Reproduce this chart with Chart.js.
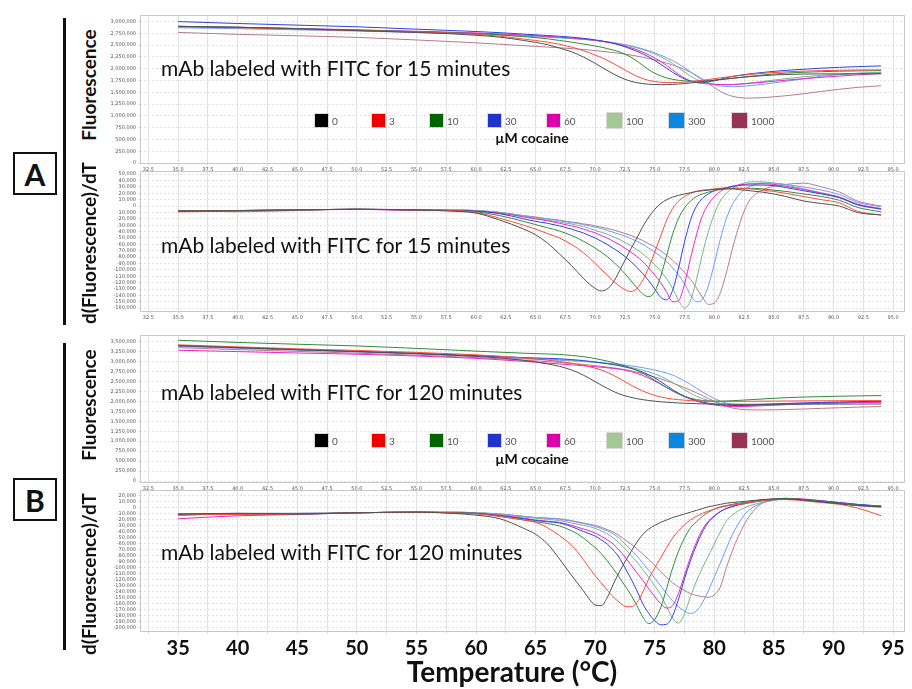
<!DOCTYPE html>
<html lang="en">
<head>
<meta charset="UTF-8">
<title>Melting curves - mAb labeled with FITC</title>
<script src="https://cdn.jsdelivr.net/npm/chart.js"></script>
<style>
  body { margin: 0; background: #fff; font-family: Lato, "Open Sans", sans-serif; }
  #page { position: relative; width: 912px; height: 689px; overflow: hidden; }
  canvas { position: absolute; left: 100px; }
  .note { position: absolute; left: 161px; font-size: 21px; line-height: 21px; color: #111; white-space: nowrap; }
  .ytitle { position: absolute; font-weight: bold; font-size: 19px; color: #111; white-space: nowrap; transform: translate(-50%, -50%) rotate(-90deg); }
  .bar { position: absolute; left: 63px; width: 3px; background: #111; }
  .letter { position: absolute; left: 13px; width: 40px; height: 39px; border: 2px solid #111; font-weight: bold; font-size: 30px; text-align: center; line-height: 40px; color: #111; }
  .sw { position: absolute; box-shadow: 0 0 0 1px rgba(0,0,0,0.15); }
  .lab { position: absolute; font-size: 10px; line-height: 12px; color: #555; }
  .unit { position: absolute; font-weight: bold; font-size: 14px; color: #111; transform: translate(-50%, -50%); white-space: nowrap; }
  #xtitle { position: absolute; left: 512px; top: 671px; transform: translate(-50%, -50%); font-weight: bold; font-size: 28px; color: #111; white-space: nowrap; }
</style>
</head>
<body>
<div id="page">
  <canvas id="aFluor" width="812" height="164" style="top:10px"></canvas>
  <canvas id="aDeriv" width="812" height="156" style="top:166px"></canvas>
  <canvas id="bFluor" width="812" height="163" style="top:330px"></canvas>
  <canvas id="bDeriv" width="812" height="175" style="top:485px"></canvas>

  <div class="bar" style="top:18px;height:307px"></div>
  <div class="bar" style="top:343px;height:307px"></div>
  <div class="letter" style="top:152px">A</div>
  <div class="letter" style="top:478px">B</div>

  <div class="ytitle" style="left:88px;top:85px">Fluorescence</div>
  <div class="ytitle" style="left:88px;top:243px">d(Fluorescence)/dT</div>
  <div class="ytitle" style="left:88px;top:405px">Fluorescence</div>
  <div class="ytitle" style="left:88px;top:574px">d(Fluorescence)/dT</div>

  <div class="note" style="top:57px">mAb labeled with FITC for 15 minutes</div>
  <div class="note" style="top:234px">mAb labeled with FITC for 15 minutes</div>
  <div class="note" style="top:381px">mAb labeled with FITC for 120 minutes</div>
  <div class="note" style="top:541px">mAb labeled with FITC for 120 minutes</div>

  <div class="unit" style="left:532px;top:137px">µM cocaine</div>
  <div class="unit" style="left:532px;top:458px">µM cocaine</div>

  <div id="xtitle">Temperature (°C)</div>
</div>

<script>
// temperatures (°C) at which the curves were read
var temps = [35, 40, 45, 50, 55, 58, 60, 62, 64, 65, 66, 67, 68, 68.5, 69, 69.5, 70, 70.5, 71, 71.5, 72, 72.5, 73, 73.5, 74, 74.5, 75, 75.5, 76, 76.5, 77, 77.5, 78, 78.5, 79, 79.5, 80, 80.5, 81, 81.5, 82, 82.5, 83, 84, 85, 86, 87.5, 89, 90.5, 92, 94];

var concLabels = ['0', '3', '10', '30', '60', '100', '300', '1000'];
var lineColors = ['#505050', '#ff4a3a', '#2f8c3e', '#3140e0', '#ee22c8', '#72b888', '#6e9cff', '#b87a8c'];
var legendColors = ['#000000', '#ee0000', '#006400', '#2233cc', '#dd00aa', '#a2c991', '#0a88e0', '#993355'];

// A - fluorescence (x1000)
var aFluor0 = [2900,2880,2850,2810,2770,2740,2710,2670,2600,2560,2510,2440,2360,2310,2250,2185,2115,2040,1965,1895,1830,1775,1735,1705,1685,1672,1665,1662,1663,1668,1676,1686,1698,1712,1726,1740,1755,1770,1784,1798,1810,1822,1833,1852,1868,1878,1888,1890,1892,1893,1893];
var aFluor3 = [2890,2870,2840,2810,2780,2755,2730,2690,2630,2600,2565,2520,2460,2425,2385,2340,2290,2240,2180,2115,2045,1975,1905,1840,1790,1752,1728,1714,1708,1707,1710,1716,1726,1740,1756,1772,1790,1806,1822,1838,1852,1866,1880,1902,1920,1935,1950,1960,1968,1974,1976];
var aFluor10 = [2900,2880,2850,2820,2790,2765,2745,2720,2680,2660,2635,2600,2565,2545,2525,2505,2482,2458,2430,2398,2360,2310,2245,2165,2070,1980,1905,1850,1805,1775,1755,1742,1737,1737,1742,1750,1760,1772,1785,1798,1812,1826,1840,1866,1890,1908,1925,1938,1948,1955,1960];
var aFluor30 = [3000,2960,2925,2890,2840,2810,2790,2765,2735,2720,2705,2690,2670,2660,2645,2630,2612,2592,2568,2540,2505,2465,2420,2370,2315,2250,2175,2095,2010,1925,1850,1785,1740,1718,1712,1720,1745,1778,1810,1836,1858,1876,1892,1920,1945,1965,1990,2012,2030,2045,2060];
var aFluor60 = [2900,2880,2855,2825,2795,2775,2760,2740,2715,2700,2685,2670,2652,2642,2630,2617,2602,2585,2565,2542,2515,2482,2445,2402,2352,2295,2230,2155,2070,1975,1880,1800,1740,1705,1688,1678,1670,1665,1664,1666,1672,1680,1690,1712,1735,1758,1790,1818,1845,1870,1900];
var aFluor100 = [2890,2870,2845,2815,2785,2765,2750,2730,2705,2692,2678,2662,2645,2635,2625,2613,2600,2585,2568,2550,2528,2503,2475,2442,2405,2362,2312,2255,2188,2110,2022,1930,1845,1775,1725,1692,1672,1662,1660,1664,1672,1684,1698,1728,1760,1790,1830,1860,1885,1905,1925];
var aFluor300 = [2870,2850,2825,2800,2770,2750,2735,2715,2692,2680,2668,2655,2640,2632,2622,2612,2600,2587,2572,2555,2535,2512,2486,2456,2422,2383,2338,2288,2232,2170,2100,2022,1935,1845,1765,1702,1660,1636,1624,1620,1622,1630,1642,1668,1700,1735,1785,1840,1875,1900,1920];
var aFluor1000 = [2770,2730,2700,2665,2610,2575,2550,2520,2490,2475,2460,2445,2428,2418,2408,2397,2385,2372,2358,2343,2327,2310,2290,2268,2244,2217,2188,2156,2120,2080,2036,1986,1928,1860,1780,1690,1600,1522,1460,1418,1392,1380,1378,1385,1405,1428,1470,1520,1565,1605,1640];

// A - d(Fluorescence)/dT (x1000)
var aDeriv0 = [-8,-7,-6,-5,-6,-8,-11,-22,-36,-45,-58,-75,-93,-103,-113,-122,-129,-133,-130,-120,-103,-85,-67,-50,-32,-17,-5,4,10,14,17,19,21,23,24,25,26,27,27,27,26,25,24,22,19,15,8,4,0,-10,-14];
var aDeriv3 = [-8,-7,-6,-5,-6,-7,-10,-19,-30,-36,-43,-50,-60,-66,-73,-81,-90,-99,-108,-117,-125,-131,-134,-129,-116,-96,-72,-47,-22,-4,8,15,20,23,25,26,27,28,28,28,28,27,27,25,23,20,15,10,5,-8,-14];
var aDeriv10 = [-7,-7,-6,-5,-6,-7,-9,-15,-24,-29,-34,-39,-46,-50,-55,-60,-66,-72,-79,-87,-96,-106,-117,-128,-138,-142,-134,-110,-77,-44,-19,-3,8,15,19,22,24,26,27,28,28,28,28,27,25,23,19,15,9,-2,-9];
var aDeriv30 = [-8,-7,-6,-5,-6,-7,-8,-12,-20,-24,-27,-31,-36,-39,-42,-46,-50,-55,-60,-66,-72,-79,-87,-96,-106,-117,-130,-143,-147,-132,-97,-56,-22,0,12,19,24,27,29,31,32,33,33,33,32,29,24,19,13,2,-5];
var aDeriv60 = [-9,-8,-6,-5,-7,-7,-8,-11,-17,-20,-23,-27,-31,-33,-36,-39,-42,-46,-50,-55,-60,-66,-72,-79,-87,-97,-108,-120,-135,-150,-148,-122,-82,-45,-15,3,15,23,28,31,33,34,35,35,34,31,26,20,14,3,-4];
var aDeriv100 = [-8,-7,-6,-5,-6,-6,-7,-10,-16,-19,-22,-25,-28,-30,-32,-35,-38,-41,-44,-48,-52,-57,-62,-68,-75,-83,-92,-102,-114,-129,-148,-160,-148,-115,-75,-40,-12,8,20,28,33,36,38,38,36,33,27,21,14,3,-4];
var aDeriv300 = [-8,-7,-6,-5,-6,-6,-7,-10,-15,-18,-20,-23,-26,-27,-29,-31,-33,-35,-38,-41,-44,-47,-51,-55,-60,-66,-72,-79,-87,-97,-108,-122,-139,-150,-146,-125,-90,-52,-20,2,16,26,31,36,36,34,30,25,18,6,-1];
var aDeriv1000 = [-7,-9,-7,-5,-6,-6,-7,-10,-15,-17,-20,-22,-25,-26,-28,-29,-31,-33,-35,-37,-40,-43,-46,-50,-54,-59,-64,-70,-77,-85,-94,-104,-115,-128,-143,-154,-152,-136,-105,-68,-35,-8,10,25,31,34,36,30,22,8,0];

// B - fluorescence (x1000)
var bFluor0 = [3400,3350,3300,3250,3200,3160,3130,3090,3030,2990,2940,2880,2790,2730,2660,2580,2495,2410,2330,2255,2190,2140,2100,2068,2043,2022,2005,1990,1978,1968,1960,1953,1947,1942,1938,1935,1932,1930,1928,1927,1926,1926,1926,1927,1928,1929,1930,1931,1932,1933,1935];
var bFluor3 = [3420,3370,3320,3280,3230,3195,3170,3135,3090,3065,3035,3000,2960,2935,2905,2872,2835,2790,2730,2660,2580,2495,2410,2330,2260,2200,2150,2110,2080,2058,2042,2030,2020,2012,2006,2002,2000,1999,1999,2000,2001,2002,2003,2005,2007,2009,2012,2014,2016,2018,2020];
var bFluor10 = [3535,3480,3435,3392,3330,3290,3262,3235,3210,3200,3190,3180,3155,3140,3122,3102,3075,3045,3012,2975,2935,2890,2840,2780,2705,2620,2530,2440,2350,2265,2190,2125,2078,2045,2022,2010,2005,2006,2010,2016,2024,2033,2042,2060,2078,2092,2108,2120,2130,2138,2145];
var bFluor30 = [3400,3350,3300,3255,3205,3170,3150,3125,3100,3090,3080,3070,3050,3038,3024,3008,2990,2970,2948,2925,2898,2865,2828,2785,2735,2670,2590,2495,2395,2295,2205,2130,2070,2020,1982,1955,1932,1915,1903,1897,1896,1899,1905,1920,1935,1948,1962,1975,1985,1994,2003];
var bFluor60 = [3285,3250,3215,3185,3140,3105,3080,3045,3005,2985,2962,2940,2918,2906,2894,2882,2870,2857,2843,2828,2810,2785,2750,2705,2650,2585,2510,2430,2345,2262,2185,2115,2055,2005,1965,1933,1908,1890,1878,1872,1870,1872,1877,1890,1905,1918,1935,1950,1960,1970,1978];
var bFluor100 = [3400,3350,3300,3255,3205,3170,3145,3115,3085,3072,3060,3048,3030,3020,3008,2995,2980,2963,2945,2925,2903,2878,2850,2818,2782,2740,2690,2630,2555,2470,2380,2290,2205,2130,2070,2022,1985,1958,1940,1930,1924,1922,1922,1926,1932,1940,1950,1958,1965,1972,1978];
var bFluor300 = [3380,3330,3285,3240,3190,3155,3130,3100,3070,3058,3045,3032,3018,3010,3002,2993,2983,2972,2960,2946,2930,2912,2892,2870,2845,2818,2788,2752,2710,2662,2590,2515,2425,2330,2240,2150,2070,2005,1958,1928,1910,1900,1896,1895,1905,1920,1940,1958,1975,1990,2003];
var bFluor1000 = [3350,3300,3255,3210,3160,3125,3100,3070,3035,3018,2998,2978,2955,2942,2928,2913,2897,2880,2862,2842,2820,2795,2766,2733,2697,2657,2613,2566,2516,2462,2405,2345,2282,2215,2145,2072,2000,1935,1878,1835,1808,1793,1787,1785,1788,1795,1808,1825,1840,1855,1870];

// B - d(Fluorescence)/dT (x1000)
var bDeriv0 = [-10,-9,-10,-8,-7,-9,-12,-18,-34,-44,-60,-85,-112,-125,-138,-152,-162,-163,-150,-128,-108,-90,-73,-57,-44,-35,-29,-24,-20,-16,-13,-10,-7,-4,-1,2,4,6,8,9,10,11,12,14,15,15,13,10,7,4,2];
var bDeriv3 = [-10,-11,-10,-8,-7,-8,-10,-14,-20,-24,-33,-46,-62,-73,-86,-100,-113,-125,-137,-148,-157,-164,-165,-158,-140,-118,-100,-83,-66,-50,-38,-28,-20,-14,-9,-5,-2,1,3,5,6,7,9,12,14,14,12,9,6,0,-13];
var bDeriv10 = [-12,-10,-10,-8,-7,-8,-9,-14,-20,-23,-26,-30,-38,-43,-50,-58,-66,-76,-88,-101,-115,-130,-145,-163,-182,-193,-186,-166,-134,-100,-72,-50,-33,-23,-14,-7,-2,2,4,6,8,9,10,13,15,16,14,11,8,5,3];
var bDeriv30 = [-11,-10,-10,-8,-7,-8,-9,-13,-18,-21,-23,-25,-31,-35,-39,-43,-47,-53,-60,-70,-82,-100,-118,-138,-160,-176,-188,-195,-194,-180,-152,-118,-88,-62,-40,-24,-14,-6,-1,2,5,7,9,12,14,15,14,12,9,6,3];
var bDeriv60 = [-18,-13,-11,-8,-7,-8,-9,-12,-17,-20,-22,-24,-29,-32,-35,-38,-42,-47,-53,-60,-70,-82,-95,-108,-121,-135,-148,-160,-167,-163,-142,-112,-82,-57,-36,-22,-13,-6,-1,3,6,8,10,13,15,16,15,12,9,6,3];
var bDeriv100 = [-12,-10,-9,-8,-7,-7,-8,-11,-15,-17,-19,-21,-25,-27,-29,-31,-34,-38,-43,-50,-58,-68,-79,-90,-103,-116,-130,-145,-165,-184,-192,-176,-148,-122,-100,-80,-60,-40,-22,-12,-5,0,4,9,13,15,14,11,8,4,1];
var bDeriv300 = [-10,-9,-9,-8,-7,-7,-8,-10,-14,-16,-17,-19,-22,-24,-26,-28,-31,-34,-38,-43,-50,-60,-70,-80,-92,-104,-117,-130,-143,-155,-165,-172,-176,-172,-158,-138,-115,-92,-68,-45,-27,-12,-2,8,13,15,14,11,8,5,3];
var bDeriv1000 = [-10,-9,-9,-8,-7,-7,-8,-10,-14,-16,-17,-18,-21,-23,-25,-27,-29,-32,-36,-40,-46,-53,-60,-68,-77,-86,-96,-106,-116,-125,-132,-138,-143,-146,-148,-149,-145,-132,-100,-72,-48,-28,-12,8,15,16,14,11,8,4,2];

// tick values
var xTicks = [32.5, 35, 37.5, 40, 42.5, 45, 47.5, 50, 52.5, 55, 57.5, 60, 62.5, 65, 67.5, 70, 72.5, 75, 77.5, 80, 82.5, 85, 87.5, 90, 92.5, 95];
var aFluorTicks = [0, 250, 500, 750, 1000, 1250, 1500, 1750, 2000, 2250, 2500, 2750, 3000];
var aDerivTicks = [50, 40, 30, 20, 10, 0, -10, -20, -30, -40, -50, -60, -70, -80, -90, -100, -110, -120, -130, -140, -150, -160];
var bFluorTicks = [0, 250, 500, 750, 1000, 1250, 1500, 1750, 2000, 2250, 2500, 2750, 3000, 3250, 3500];
var bDerivTicks = [20, 10, 0, -10, -20, -30, -40, -50, -60, -70, -80, -90, -100, -110, -120, -130, -140, -150, -160, -170, -180, -190, -200];

// legend square positions
var legendX = [315, 372, 430, 488, 547, 607, 669, 732];

var frame = {
    id: 'frame',
    afterDraw: function (chart) {
        var ctx = chart.ctx, a = chart.chartArea;
        ctx.save();
        ctx.strokeStyle = '#c8c8c8';
        ctx.lineWidth = 1;
        ctx.strokeRect(a.left + 0.5, a.top + 0.5, a.width - 1, a.height - 1);
        ctx.restore();
    }
};

function makeChart(id, series, yMin, yMax, yTicks, bigX) {
    var datasets = series.map(function (vals, i) {
        return {
            label: concLabels[i],
            data: vals.map(function (v, j) { return { x: temps[j], y: v }; }),
            borderColor: lineColors[i],
            borderWidth: 1,
            pointRadius: 0,
            fill: false,
            cubicInterpolationMode: 'monotone'
        };
    });
    return new Chart(document.getElementById(id), {
        type: 'line',
        data: { datasets: datasets },
        options: {
            responsive: false,
            animation: false,
            events: [],
            layout: { padding: { top: 4, right: 7, bottom: 0, left: 0 } },
            plugins: { legend: { display: false }, tooltip: { enabled: false } },
            scales: {
                x: {
                    type: 'linear', min: 31.8, max: 96,
                    afterBuildTicks: function (s) { s.ticks = xTicks.map(function (v) { return { value: v }; }); },
                    afterFit: function (s) { s.height = bigX ? 28 : 10; },
                    grid: { color: '#e2e2e2', tickLength: 2 },
                    border: { display: false },
                    ticks: {
                        autoSkip: false, maxRotation: 0, padding: bigX ? 3 : 1,
                        color: bigX ? '#111' : '#555',
                        font: bigX ? { family: 'Lato', size: 20, weight: 'bold' } : { family: 'DejaVu Sans', size: 5 },
                        callback: function (v) {
                            if (bigX) return v % 5 === 0 ? String(v) : '';
                            return v.toFixed(1);
                        }
                    }
                },
                y: {
                    min: yMin, max: yMax,
                    afterBuildTicks: function (s) { s.ticks = yTicks.map(function (v) { return { value: v }; }); },
                    afterFit: function (s) { s.width = 40; },
                    grid: { color: '#e2e2e2', tickLength: 2 },
                    border: { display: false, dash: [2, 2] },
                    ticks: {
                        autoSkip: false, padding: 2, color: '#555',
                        font: { family: 'DejaVu Sans', size: 5 },
                        callback: function (v) { return (v * 1000).toLocaleString('en-US'); }
                    }
                }
            }
        },
        plugins: [frame]
    });
}

makeChart('aFluor', [aFluor0, aFluor3, aFluor10, aFluor30, aFluor60, aFluor100, aFluor300, aFluor1000], -20, 3140, aFluorTicks, false);
makeChart('aDeriv', [aDeriv0, aDeriv3, aDeriv10, aDeriv30, aDeriv60, aDeriv100, aDeriv300, aDeriv1000], -166, 55, aDerivTicks, false);
makeChart('bFluor', [bFluor0, bFluor3, bFluor10, bFluor30, bFluor60, bFluor100, bFluor300, bFluor1000], -50, 3667, bFluorTicks, false);
makeChart('bDeriv', [bDeriv0, bDeriv3, bDeriv10, bDeriv30, bDeriv60, bDeriv100, bDeriv300, bDeriv1000], -207, 30, bDerivTicks, true);

// legends in the two fluorescence panels
var page = document.getElementById('page');
[120, 440].forEach(function (yc) {
    concLabels.forEach(function (lab, i) {
        var size = i < 5 ? 13 : 15;
        var sw = document.createElement('div');
        sw.className = 'sw';
        sw.style.cssText = 'left:' + legendX[i] + 'px;top:' + (yc - size / 2) + 'px;width:' + size + 'px;height:' + size + 'px;background:' + legendColors[i];
        page.appendChild(sw);
        var t = document.createElement('div');
        t.className = 'lab';
        t.style.cssText = 'left:' + (legendX[i] + size + 4) + 'px;top:' + (yc - 5) + 'px';
        t.textContent = lab;
        page.appendChild(t);
    });
});
</script>
</body>
</html>
